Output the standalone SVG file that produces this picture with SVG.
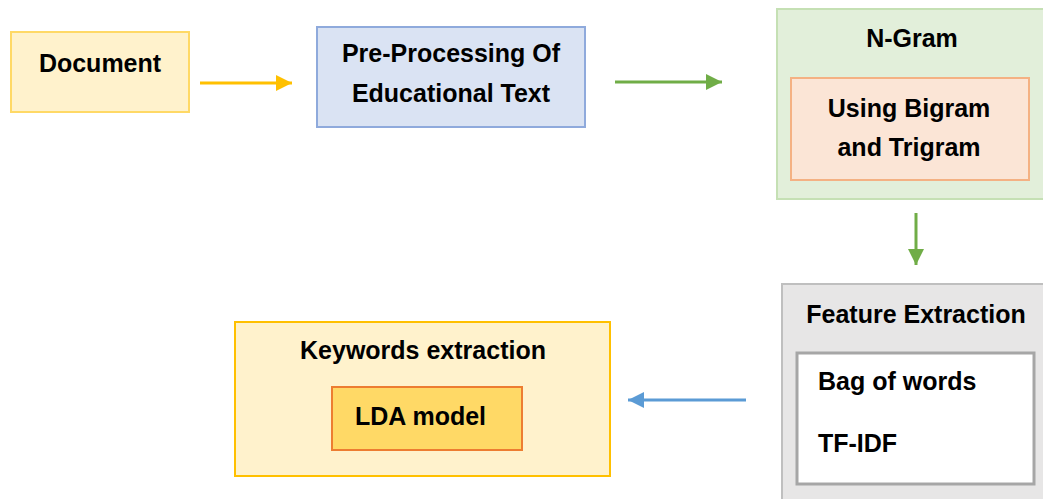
<svg xmlns="http://www.w3.org/2000/svg" width="1043" height="499" viewBox="0 0 1043 499">
<defs>
<style>
text{font-family:"Liberation Sans",Arial,sans-serif;font-weight:bold;font-size:25px;fill:#000}
.c{text-anchor:middle}
.ln{fill:none;stroke-width:3}
</style>
<marker id="ay" markerUnits="userSpaceOnUse" markerWidth="18" markerHeight="18" refX="16" refY="8" orient="auto"><path d="M0,0 L16,8 L0,16 Z" fill="#ffc000"/></marker>
<marker id="ag" markerUnits="userSpaceOnUse" markerWidth="18" markerHeight="18" refX="16" refY="8" orient="auto"><path d="M0,0 L16,8 L0,16 Z" fill="#70ad47"/></marker>
<marker id="ab" markerUnits="userSpaceOnUse" markerWidth="18" markerHeight="18" refX="16" refY="8" orient="auto"><path d="M0,0 L16,8 L0,16 Z" fill="#5b9bd5"/></marker>
</defs>
<rect width="1043" height="499" fill="#fff"/>
<g id="document">
<rect x="11" y="32" width="178" height="80" fill="#fff2cc" stroke="#ffd966" stroke-width="2"/>
<text class="c" x="100" y="72">Document</text>
</g>
<g id="preprocessing">
<rect x="317" y="27" width="268" height="100" fill="#dae3f3" stroke="#8faadc" stroke-width="2"/>
<text class="c" x="451" y="62">Pre-Processing Of</text>
<text class="c" x="451" y="102">Educational Text</text>
</g>
<g id="ngram">
<rect x="777" y="9" width="275" height="190" fill="#e2efda" stroke="#c5e0b4" stroke-width="2"/>
<text class="c" x="912" y="47">N-Gram</text>
<rect x="791" y="78" width="238" height="102" fill="#fbe5d6" stroke="#f4b183" stroke-width="2"/>
<text class="c" x="909" y="117">Using Bigram</text>
<text class="c" x="909" y="156">and Trigram</text>
</g>
<g id="feature">
<rect x="782" y="284" width="275" height="230" fill="#e7e6e6" stroke="#bfbfbf" stroke-width="2"/>
<text class="c" x="916" y="323">Feature Extraction</text>
<rect x="797" y="353" width="237" height="131" fill="#fff" stroke="#a6a6a6" stroke-width="3"/>
<text x="818" y="390">Bag of words</text>
<text x="818" y="452">TF-IDF</text>
</g>
<g id="keywords">
<rect x="235" y="322" width="375" height="154" fill="#fff2cc" stroke="#ffc000" stroke-width="2"/>
<text class="c" x="423" y="359">Keywords extraction</text>
<rect x="332" y="387" width="190" height="63" fill="#ffd966" stroke="#ed7d31" stroke-width="2"/>
<text x="355" y="425">LDA model</text>
</g>
<g id="connectors">
<line class="ln" x1="200" y1="83" x2="292" y2="83" stroke="#ffc000" marker-end="url(#ay)"/>
<line class="ln" x1="615" y1="82" x2="722" y2="82" stroke="#70ad47" marker-end="url(#ag)"/>
<line class="ln" x1="916" y1="213" x2="916" y2="265" stroke="#70ad47" marker-end="url(#ag)"/>
<line class="ln" x1="746" y1="400" x2="628" y2="400" stroke="#5b9bd5" marker-end="url(#ab)"/>
</g>
</svg>
